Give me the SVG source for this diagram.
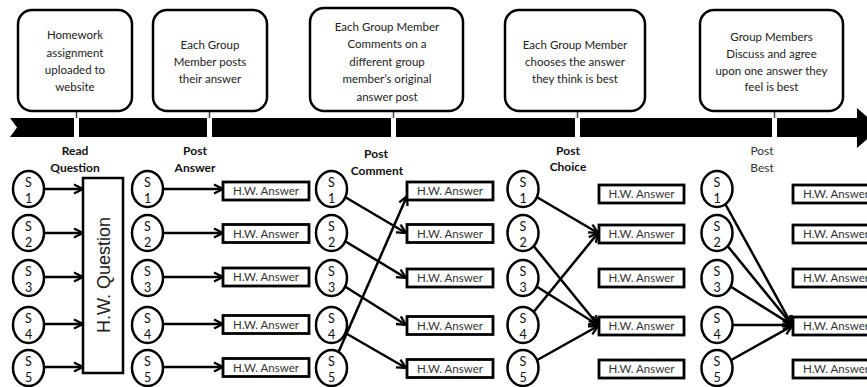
<svg xmlns="http://www.w3.org/2000/svg" width="867" height="387" viewBox="0 0 867 387">
<defs>
<style>
.box{fill:#fff;stroke:#000;stroke-width:2.5}
.bt{font-family:Lato,"Liberation Sans",sans-serif;font-size:11.5px;fill:#222;text-anchor:middle}
.lab{font-family:Lato,"Liberation Sans",sans-serif;font-size:12px;font-weight:bold;fill:#111;text-anchor:middle}
.labn{font-family:Lato,"Liberation Sans",sans-serif;font-size:12px;fill:#333;text-anchor:middle}
.cir{fill:#fff;stroke:#000;stroke-width:2.5}
.ct{font-family:Lato,"Liberation Sans",sans-serif;font-size:12.5px;fill:#111;text-anchor:middle}
.ans{fill:#fff;stroke:#000;stroke-width:2.8}
.at{font-family:Lato,"Liberation Sans",sans-serif;font-size:11.5px;fill:#333;text-anchor:middle}
.con line{stroke:#000;stroke-width:2.5;marker-end:url(#ah)}
.stem{stroke:#444;stroke-width:1.5}
</style>
<marker id="ah" markerUnits="userSpaceOnUse" viewBox="0 0 12 12" markerWidth="12" markerHeight="12" refX="10.5" refY="6" orient="auto">
<path d="M1.5,1.5 L10.5,6 L1.5,10.5" fill="none" stroke="#000" stroke-width="2.3"/>
</marker>
</defs>
<rect width="867" height="387" fill="#fff"/>

<g id="timeline">
<polygon points="10,118 857,118 857,108 880,128 857,148 857,137 10,137 17,127.5" fill="#000"/>
<rect x="74" y="116" width="5" height="23" fill="#fff"/>
<rect x="207" y="116" width="5" height="23" fill="#fff"/>
<rect x="391" y="116" width="5" height="23" fill="#fff"/>
<rect x="575" y="116" width="5" height="23" fill="#fff"/>
<rect x="772" y="116" width="5" height="23" fill="#fff"/>
<line class="stem" x1="76.5" y1="111" x2="76.5" y2="118"/>
<line class="stem" x1="209.5" y1="111" x2="209.5" y2="118"/>
<line class="stem" x1="393.5" y1="111" x2="393.5" y2="118"/>
<line class="stem" x1="577.5" y1="111" x2="577.5" y2="118"/>
<line class="stem" x1="774.5" y1="111" x2="774.5" y2="118"/>
</g>

<g id="step1">
<rect class="box" x="18" y="10" width="114" height="101" rx="14"/>
<text class="bt" x="75" y="39">Homework</text>
<text class="bt" x="75" y="56.5">assignment</text>
<text class="bt" x="75" y="74">uploaded to</text>
<text class="bt" x="75" y="91">website</text>
</g>
<g id="step2">
<rect class="box" x="153" y="10" width="114" height="101" rx="14"/>
<text class="bt" x="210" y="49">Each Group</text>
<text class="bt" x="210" y="66">Member posts</text>
<text class="bt" x="210" y="83">their answer</text>
</g>
<g id="step3">
<rect class="box" x="310" y="8" width="153" height="103" rx="14"/>
<text class="bt" x="387" y="31">Each Group Member</text>
<text class="bt" x="387" y="48">Comments on a</text>
<text class="bt" x="387" y="66">different group</text>
<text class="bt" x="387" y="83">member’s original</text>
<text class="bt" x="387" y="101">answer post</text>
</g>
<g id="step4">
<rect class="box" x="505" y="10" width="140" height="101" rx="14"/>
<text class="bt" x="575" y="49">Each Group Member</text>
<text class="bt" x="575" y="66">chooses the answer</text>
<text class="bt" x="575" y="83">they think is best</text>
</g>
<g id="step5">
<rect class="box" x="700" y="10" width="143" height="101" rx="14"/>
<text class="bt" x="771.5" y="41">Group Members</text>
<text class="bt" x="771.5" y="58">Discuss and agree</text>
<text class="bt" x="771.5" y="75">upon one answer they</text>
<text class="bt" x="771.5" y="91">feel is best</text>
</g>

<g id="labels">
<text class="lab" x="75" y="155">Read</text>
<text class="lab" x="75" y="172">Question</text>
<text class="lab" x="195" y="155">Post</text>
<text class="lab" x="195" y="172">Answer</text>
<text class="lab" x="376" y="158">Post</text>
<text class="lab" x="377" y="175">Comment</text>
<text class="lab" x="568" y="155">Post</text>
<text class="lab" x="568" y="171">Choice</text>
<text class="labn" x="762" y="155">Post</text>
<text class="labn" x="762" y="172">Best</text>
</g>

<g id="connectors" class="con">
<line x1="28.5" y1="189" x2="83" y2="189"/>
<line x1="28.5" y1="233" x2="83" y2="233"/>
<line x1="28.5" y1="277" x2="83" y2="277"/>
<line x1="28.5" y1="324" x2="83" y2="324"/>
<line x1="28.5" y1="367" x2="83" y2="367"/>
<line x1="147.5" y1="189" x2="223" y2="189"/>
<line x1="147.5" y1="233" x2="223" y2="233"/>
<line x1="147.5" y1="277" x2="223" y2="277"/>
<line x1="147.5" y1="324" x2="223" y2="324"/>
<line x1="147.5" y1="367" x2="223" y2="367"/>
<line x1="331.5" y1="189" x2="406" y2="233"/>
<line x1="331.5" y1="233" x2="406" y2="278"/>
<line x1="331.5" y1="278" x2="406" y2="325"/>
<line x1="331.5" y1="325" x2="406" y2="368"/>
<line x1="331.5" y1="368" x2="407" y2="196"/>
<line x1="523" y1="189" x2="598" y2="233"/>
<line x1="523" y1="233" x2="598" y2="325"/>
<line x1="523" y1="278" x2="598" y2="325"/>
<line x1="523" y1="325" x2="598" y2="233"/>
<line x1="523" y1="368" x2="598" y2="326"/>
<line x1="717" y1="189" x2="792" y2="325"/>
<line x1="717" y1="233" x2="792" y2="325"/>
<line x1="717" y1="278" x2="792" y2="325"/>
<line x1="717" y1="325" x2="792" y2="325"/>
<line x1="717" y1="368" x2="792" y2="326"/>
</g>

<g id="hw-question">
<rect class="box" x="83" y="178" width="40" height="195"/>
<text x="0" y="0" transform="translate(110,275) rotate(-90)" font-family="'Liberation Sans',Arial,sans-serif" font-size="18" fill="#222" text-anchor="middle">H.W. Question</text>
</g>

<g id="col1">
<g id="c1s1"><ellipse class="cir" cx="28.5" cy="189" rx="15.5" ry="18"/><text class="ct" x="28.5" y="187">S</text><text class="ct" x="28.5" y="203">1</text></g>
<g id="c1s2"><ellipse class="cir" cx="28.5" cy="233" rx="15.5" ry="18"/><text class="ct" x="28.5" y="231">S</text><text class="ct" x="28.5" y="247">2</text></g>
<g id="c1s3"><ellipse class="cir" cx="28.5" cy="278" rx="15.5" ry="18"/><text class="ct" x="28.5" y="276">S</text><text class="ct" x="28.5" y="292">3</text></g>
<g id="c1s4"><ellipse class="cir" cx="28.5" cy="325" rx="15.5" ry="18"/><text class="ct" x="28.5" y="323">S</text><text class="ct" x="28.5" y="339">4</text></g>
<g id="c1s5"><ellipse class="cir" cx="28.5" cy="368" rx="15.5" ry="18"/><text class="ct" x="28.5" y="366">S</text><text class="ct" x="28.5" y="382">5</text></g>
</g>

<g id="col2">
<g id="c2s1"><ellipse class="cir" cx="147.5" cy="189" rx="15.5" ry="18"/><text class="ct" x="147.5" y="187">S</text><text class="ct" x="147.5" y="203">1</text></g>
<g id="c2s2"><ellipse class="cir" cx="147.5" cy="233" rx="15.5" ry="18"/><text class="ct" x="147.5" y="231">S</text><text class="ct" x="147.5" y="247">2</text></g>
<g id="c2s3"><ellipse class="cir" cx="147.5" cy="278" rx="15.5" ry="18"/><text class="ct" x="147.5" y="276">S</text><text class="ct" x="147.5" y="292">3</text></g>
<g id="c2s4"><ellipse class="cir" cx="147.5" cy="325" rx="15.5" ry="18"/><text class="ct" x="147.5" y="323">S</text><text class="ct" x="147.5" y="339">4</text></g>
<g id="c2s5"><ellipse class="cir" cx="147.5" cy="368" rx="15.5" ry="18"/><text class="ct" x="147.5" y="366">S</text><text class="ct" x="147.5" y="382">5</text></g>
<g id="a2r1"><rect class="ans" x="223" y="182" width="86" height="18"/><text class="at" x="266" y="195">H.W. Answer</text></g>
<g id="a2r2"><rect class="ans" x="223" y="224.5" width="86" height="18"/><text class="at" x="266" y="237.5">H.W. Answer</text></g>
<g id="a2r3"><rect class="ans" x="223" y="268" width="86" height="18"/><text class="at" x="266" y="281">H.W. Answer</text></g>
<g id="a2r4"><rect class="ans" x="223" y="315.5" width="86" height="18"/><text class="at" x="266" y="328.5">H.W. Answer</text></g>
<g id="a2r5"><rect class="ans" x="223" y="358.5" width="86" height="18"/><text class="at" x="266" y="371.5">H.W. Answer</text></g>
</g>

<g id="col3">
<g id="c3s1"><ellipse class="cir" cx="331.5" cy="189" rx="15.5" ry="18"/><text class="ct" x="331.5" y="187">S</text><text class="ct" x="331.5" y="203">1</text></g>
<g id="c3s2"><ellipse class="cir" cx="331.5" cy="233" rx="15.5" ry="18"/><text class="ct" x="331.5" y="231">S</text><text class="ct" x="331.5" y="247">2</text></g>
<g id="c3s3"><ellipse class="cir" cx="331.5" cy="278" rx="15.5" ry="18"/><text class="ct" x="331.5" y="276">S</text><text class="ct" x="331.5" y="292">3</text></g>
<g id="c3s4"><ellipse class="cir" cx="331.5" cy="325" rx="15.5" ry="18"/><text class="ct" x="331.5" y="323">S</text><text class="ct" x="331.5" y="339">4</text></g>
<g id="c3s5"><ellipse class="cir" cx="331.5" cy="368" rx="15.5" ry="18"/><text class="ct" x="331.5" y="366">S</text><text class="ct" x="331.5" y="382">5</text></g>
<g id="a3r1"><rect class="ans" x="407" y="182" width="86" height="18"/><text class="at" x="450" y="195">H.W. Answer</text></g>
<g id="a3r2"><rect class="ans" x="407" y="224.5" width="86" height="18"/><text class="at" x="450" y="237.5">H.W. Answer</text></g>
<g id="a3r3"><rect class="ans" x="407" y="269" width="86" height="18"/><text class="at" x="450" y="282">H.W. Answer</text></g>
<g id="a3r4"><rect class="ans" x="407" y="316.5" width="86" height="18"/><text class="at" x="450" y="329.5">H.W. Answer</text></g>
<g id="a3r5"><rect class="ans" x="407" y="359.5" width="86" height="18"/><text class="at" x="450" y="372.5">H.W. Answer</text></g>
</g>

<g id="col4">
<g id="c4s1"><ellipse class="cir" cx="523" cy="189" rx="15.5" ry="18"/><text class="ct" x="523" y="187">S</text><text class="ct" x="523" y="203">1</text></g>
<g id="c4s2"><ellipse class="cir" cx="523" cy="233" rx="15.5" ry="18"/><text class="ct" x="523" y="231">S</text><text class="ct" x="523" y="247">2</text></g>
<g id="c4s3"><ellipse class="cir" cx="523" cy="278" rx="15.5" ry="18"/><text class="ct" x="523" y="276">S</text><text class="ct" x="523" y="292">3</text></g>
<g id="c4s4"><ellipse class="cir" cx="523" cy="325" rx="15.5" ry="18"/><text class="ct" x="523" y="323">S</text><text class="ct" x="523" y="339">4</text></g>
<g id="c4s5"><ellipse class="cir" cx="523" cy="368" rx="15.5" ry="18"/><text class="ct" x="523" y="366">S</text><text class="ct" x="523" y="382">5</text></g>
<g id="a4r1"><rect class="ans" x="599" y="185" width="85" height="18"/><text class="at" x="641.5" y="198">H.W. Answer</text></g>
<g id="a4r2"><rect class="ans" x="599" y="225" width="85" height="18"/><text class="at" x="641.5" y="238">H.W. Answer</text></g>
<g id="a4r3"><rect class="ans" x="599" y="269" width="85" height="18"/><text class="at" x="641.5" y="282">H.W. Answer</text></g>
<g id="a4r4"><rect class="ans" x="599" y="317" width="85" height="18"/><text class="at" x="641.5" y="330">H.W. Answer</text></g>
<g id="a4r5"><rect class="ans" x="599" y="360" width="85" height="18"/><text class="at" x="641.5" y="373">H.W. Answer</text></g>
</g>

<g id="col5">
<g id="c5s1"><ellipse class="cir" cx="717" cy="189" rx="15.5" ry="18"/><text class="ct" x="717" y="187">S</text><text class="ct" x="717" y="203">1</text></g>
<g id="c5s2"><ellipse class="cir" cx="717" cy="233" rx="15.5" ry="18"/><text class="ct" x="717" y="231">S</text><text class="ct" x="717" y="247">2</text></g>
<g id="c5s3"><ellipse class="cir" cx="717" cy="278" rx="15.5" ry="18"/><text class="ct" x="717" y="276">S</text><text class="ct" x="717" y="292">3</text></g>
<g id="c5s4"><ellipse class="cir" cx="717" cy="325" rx="15.5" ry="18"/><text class="ct" x="717" y="323">S</text><text class="ct" x="717" y="339">4</text></g>
<g id="c5s5"><ellipse class="cir" cx="717" cy="368" rx="15.5" ry="18"/><text class="ct" x="717" y="366">S</text><text class="ct" x="717" y="382">5</text></g>
<g id="a5r1"><rect class="ans" x="793" y="185" width="86" height="18"/><text class="at" x="836" y="198">H.W. Answer</text></g>
<g id="a5r2"><rect class="ans" x="793" y="225" width="86" height="18"/><text class="at" x="836" y="238">H.W. Answer</text></g>
<g id="a5r3"><rect class="ans" x="793" y="269" width="86" height="18"/><text class="at" x="836" y="282">H.W. Answer</text></g>
<g id="a5r4"><rect class="ans" x="793" y="317" width="86" height="18"/><text class="at" x="836" y="330">H.W. Answer</text></g>
<g id="a5r5"><rect class="ans" x="793" y="360" width="86" height="18"/><text class="at" x="836" y="373">H.W. Answer</text></g>
</g>
</svg>
